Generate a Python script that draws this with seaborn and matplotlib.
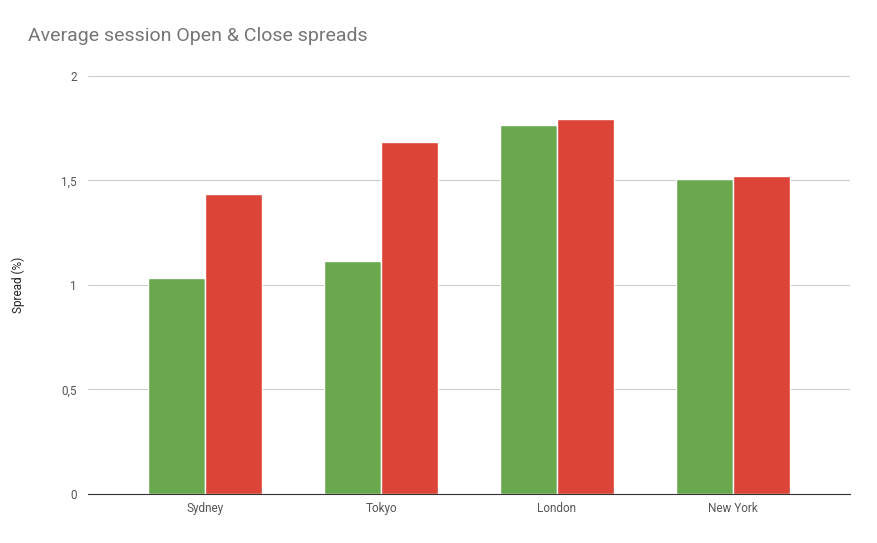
import pandas as pd
import matplotlib.pyplot as plt
import seaborn as sns

sessions = ["Sydney", "Tokyo", "London", "New York"]
open_spread = [1.035, 1.115, 1.765, 1.507]
close_spread = [1.437, 1.685, 1.795, 1.522]
y_ticks = [0, 0.5, 1, 1.5, 2]
y_labels = ["0", "0,5", "1", "1,5", "2"]

df = pd.DataFrame({
    "Session": sessions * 2,
    "Spread": open_spread + close_spread,
    "Type": ["Open"] * 4 + ["Close"] * 4,
})

sns.set_style("white")
plt.rcParams["font.family"] = ["Roboto", "DejaVu Sans"]

fig = plt.figure(figsize=(8.78, 5.43), dpi=100)
ax = fig.add_axes([0.1002, 0.0902, 0.8678, 0.77])
sns.barplot(data=df, x="Session", y="Spread", hue="Type",
            palette=["#6aa84f", "#dc4437"], width=0.65, saturation=1,
            edgecolor="white", linewidth=1, legend=False, ax=ax)

ax.set_xlim(-0.667, 3.667)
ax.set_ylim(0, 2)
ax.set_yticks(y_ticks)
ax.set_yticklabels(y_labels)
ax.yaxis.grid(True, color="#cccccc", linewidth=0.8)
ax.set_axisbelow(True)
for s in ["top", "right", "left"]:
    ax.spines[s].set_visible(False)
ax.spines["bottom"].set_color("#333333")
ax.tick_params(axis="both", length=0, labelsize=8.5, colors="#555555", pad=8)
ax.tick_params(axis="x", pad=6)
ax.set_xlabel("")
ax.set_ylabel("Spread (%)", fontsize=8.5, color="#222222", labelpad=26)
fig.text(0.032, 0.925, "Average session Open & Close spreads",
         fontsize=14, color="#757575")

fig.savefig("out.png")
